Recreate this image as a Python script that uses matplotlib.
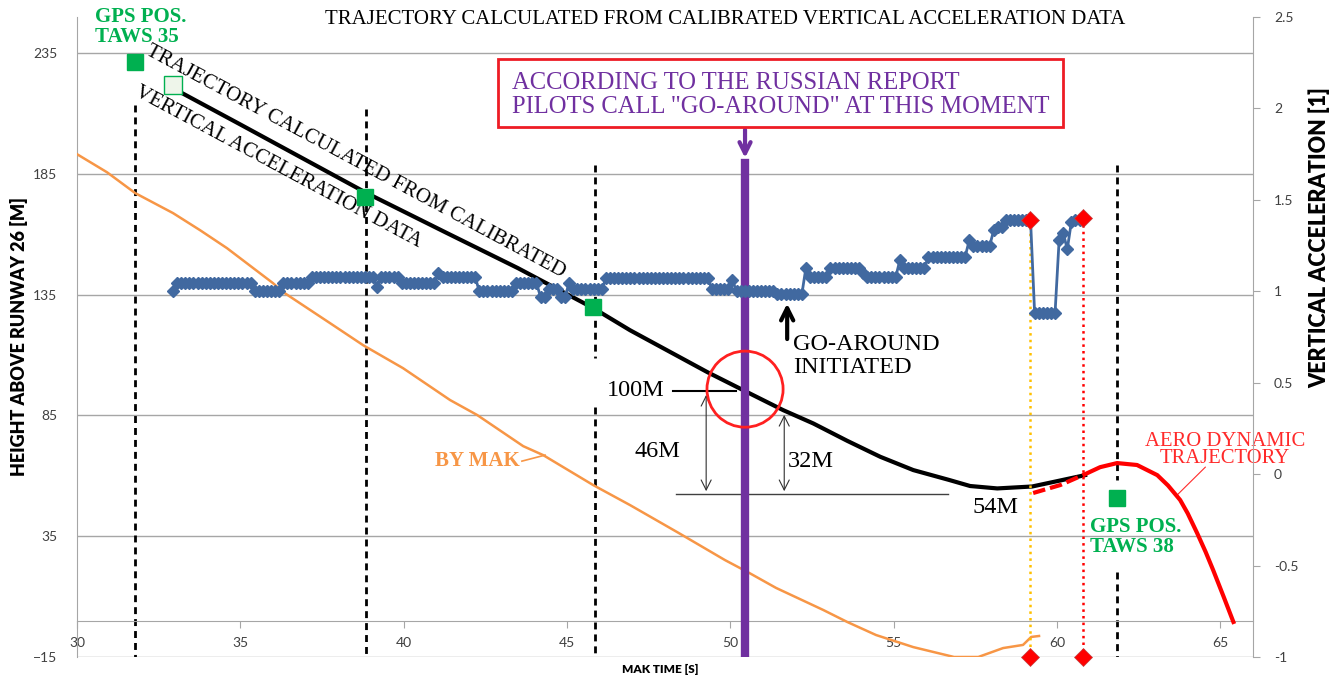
import numpy as np
import matplotlib.pyplot as plt
from matplotlib.patches import Ellipse, Rectangle
from matplotlib.ticker import FormatStrFormatter

plt.rcParams['font.family'] = ['Lato', 'DejaVu Sans']
SERIF = 'Liberation Serif'

# --- data ---
# height by MAK (orange)
mak_time = [30.0, 30.92, 31.78, 32.94, 33.77, 34.59, 36.0, 36.31, 37.75, 38.76, 39.98,
            41.42, 42.25, 43.66, 44.27, 45.80, 46.93, 48.4, 49.84, 50.58, 51.40, 52.84,
            53.58, 54.46, 55.60, 56.85, 57.59, 58.35, 58.96, 59.21, 59.45]
mak_height = [193.2, 185.7, 177.1, 168.8, 161.7, 154.3, 139.8, 136.1, 123.2, 114.1, 104.6,
              91.4, 85.2, 72.3, 68.6, 56.2, 47.9, 36.5, 25.1, 19.8, 13.6, 4.5,
              -0.5, -5.9, -10.9, -15.0, -15.0, -11.3, -10.0, -6.7, -6.3]

# trajectory from calibrated vertical acceleration (black)
traj_time = [32.94, 35.0, 38.88, 41.33, 43.5, 45.8, 46.93, 49.29, 50.51, 51.62, 52.54,
             53.58, 54.59, 55.60, 56.70, 57.34, 58.17, 59.24, 60.0, 60.86]
traj_height = [220.5, 205.5, 177.0, 160.5, 146.0, 129.5, 120.3, 103.0, 94.7, 87.2, 81.7,
               74.5, 67.9, 62.4, 58.3, 55.8, 54.8, 55.6, 57.8, 60.3]

# aerodynamic trajectory (red)
aero_dash_time = [59.27, 60.10, 60.86]
aero_dash_height = [52.9, 56.2, 60.7]
aero_time = [60.86, 61.32, 61.84, 62.45, 63.07, 63.4, 63.77, 64.0, 64.29, 64.55, 64.78,
             65.1, 65.40]
aero_height = [60.7, 63.6, 65.3, 64.5, 60.3, 56.0, 50.0, 44.5, 36.3, 28.5, 21.0,
               10.0, -0.5]

# vertical acceleration samples (blue), run-length: level, number of samples
acc_start = 32.94
acc_dt = 0.125
acc_levels = [1.00, 1.045, 1.00, 1.045, 1.078, 1.023, 1.078, 1.045, 1.10, 1.078, 1.00,
              1.045, 0.97, 1.01, 0.97, 1.045, 1.01, 1.07, 1.01, 1.06, 1.00, 0.985,
              1.13, 1.08, 1.13, 1.10, 1.08, 1.17, 1.127, 1.19, 1.28, 1.25, 1.335, 1.35,
              1.39, 0.88, 1.28, 1.32, 1.23, 1.38, 1.39]
acc_counts = [1, 19, 7, 7, 16, 1, 5, 9, 1, 9, 9,
              6, 2, 3, 2, 1, 8, 26, 5, 1, 10, 7,
              1, 5, 8, 1, 8, 1, 6, 10, 1, 5, 1, 2,
              7, 6, 1, 1, 1, 1, 2]

# GPS positions (green squares)
gps_time = [31.78, 38.82, 45.8, 61.84]
gps_height = [231.3, 175.4, 130.0, 50.8]
start_time = 32.94
start_height = 221.7

# dashed marker lines: time, list of (top, bottom) pieces
mark_time = [31.78, 38.85, 45.86, 61.84]
mark_pieces = [[(213.5, -15)], [(212.0, -15)], [(188.6, 109.0), (88.5, -15)],
               [(188.6, 58.3), (20.2, -15)]]

# end of recording (red diamonds)
end_time = [59.18, 60.80]
end_acc = [1.39, 1.40]
end_color = ['#ffc000', '#ff0000']

go_around_time = 50.45

# --- figure ---
fig = plt.figure(figsize=(13.41, 6.82), dpi=100)
ax = fig.add_axes([77 / 1341, 25 / 682, 1176 / 1341, 640 / 682])
ax2 = ax.twinx()

ax.set_xlim(30, 66)
ax.set_ylim(-15, 250)
ax2.set_ylim(-1, 2.5)

grey = '#a6a6a6'
ax.spines['top'].set_visible(False)
ax.spines['right'].set_visible(False)
ax.spines['left'].set_color(grey)
ax.spines['bottom'].set_color(grey)
ax.spines['bottom'].set_position(('data', 0))
for s in ['top', 'left', 'bottom']:
    ax2.spines[s].set_visible(False)
ax2.spines['right'].set_color(grey)

ax.set_yticks([-15, 35, 85, 135, 185, 235])
ax.grid(axis='y', color=grey, lw=1)
ax.set_axisbelow(True)
ax.set_xticks(range(30, 66, 5))
ax.tick_params(axis='y', length=0, pad=14, labelsize=10, labelcolor='#404040')
ax.tick_params(axis='x', length=5, color=grey, pad=7, labelsize=10, labelcolor='#404040')
ax2.set_yticks(np.arange(-1, 2.51, 0.5))
ax2.yaxis.set_major_formatter(FormatStrFormatter('%g'))
ax2.tick_params(axis='y', length=5, color=grey, pad=10, labelsize=10, labelcolor='#404040')

ax.set_ylabel('HEIGHT ABOVE RUNWAY 26 [M]', fontsize=13, fontweight='heavy')
ax.yaxis.set_label_coords(-0.0417, 0.5)
ax2.set_ylabel('VERTICAL ACCELERATION [1]', fontsize=15.5, fontweight='heavy')
ax2.yaxis.set_label_coords(1.0476, 0.655)
fig.text(660 / 1341, 1 - 669 / 682, 'MAK TIME [S]', fontsize=8.5, fontweight='heavy',
         ha='center', va='center')
fig.text(725 / 1341, 1 - 20 / 682,
         'TRAJECTORY CALCULATED FROM CALIBRATED VERTICAL ACCELERATION DATA',
         family=SERIF, fontsize=15, ha='center', va='center')

# dashed marker lines
for t, pieces in zip(mark_time, mark_pieces):
    for top, bot in pieces:
        ax.plot([t, t], [top, bot], color='black', lw=2, ls=(0, (2.5, 1.8)), zorder=2)

# series
ax.plot(mak_time, mak_height, color='#f79646', lw=1.8, zorder=3)
ax.plot(traj_time, traj_height, color='black', lw=3, zorder=4)
ax.plot(aero_dash_time, aero_dash_height, color='#ff0000', lw=3, ls=(0, (3, 1.2)), zorder=5)
ax.plot(aero_time, aero_height, color='#ff0000', lw=3, zorder=5)

ax.plot(gps_time, gps_height, ls='none', marker='s', ms=12, color='#00b050', zorder=6)
ax.plot([start_time], [start_height], ls='none', marker='s', ms=13, mfc='#eef5ea',
        mec='#00b050', mew=1, zorder=5)

# go-around moment
ax.plot([go_around_time, go_around_time], [189.5, -15], color='#7030a0', lw=6, zorder=6)
ax.annotate('', xy=(go_around_time, 190.5), xytext=(go_around_time, 204.5),
            arrowprops=dict(arrowstyle='->', color='#7030a0', lw=3, mutation_scale=20))
fig.patches.append(Rectangle((498 / 1341, 1 - 127 / 682), 565 / 1341, 68 / 682,
                             transform=fig.transFigure, fill=False, ec='#ee1c25', lw=2))
fig.text(512 / 1341, 1 - 95 / 682,
         'ACCORDING TO THE RUSSIAN REPORT\nPILOTS CALL "GO-AROUND" AT THIS MOMENT',
         family=SERIF, fontsize=17.7, color='#7030a0', ha='left', va='center',
         linespacing=1.12)

ax.add_patch(Ellipse((go_around_time, 95.9), 2.33, 31.5, fill=False, ec='#ff2020',
                     lw=2, zorder=7))

# go-around initiated
ax.annotate('', xy=(51.74, 132.5), xytext=(51.74, 115.5),
            arrowprops=dict(arrowstyle='->', color='black', lw=3, mutation_scale=22))
ax.text(51.92, 109.6, 'GO-AROUND\nINITIATED', family=SERIF, fontsize=17.5,
        ha='left', va='center', linespacing=1.1)

# height annotations
ax.text(48.0, 95.5, '100M', family=SERIF, fontsize=17.5, ha='right', va='center')
ax.plot([48.25, 50.18], [95.1, 95.1], color='black', lw=1.5, zorder=5)
ax.plot([48.34, 56.67], [52.5, 52.5], color='#404040', lw=1, zorder=5)
ax.annotate('', xy=(49.26, 94.7), xytext=(49.26, 52.5),
            arrowprops=dict(arrowstyle='<->', color='#303030', lw=0.8, mutation_scale=18))
ax.annotate('', xy=(51.65, 86.4), xytext=(51.65, 52.5),
            arrowprops=dict(arrowstyle='<->', color='#303030', lw=0.8, mutation_scale=18))
ax.text(47.76, 69.9, '46M', family=SERIF, fontsize=17.5, ha='center', va='center')
ax.text(52.47, 66.1, '32M', family=SERIF, fontsize=17.5, ha='center', va='center')
ax.text(58.11, 47.1, '54M', family=SERIF, fontsize=17.5, ha='center', va='center')

# labels on curves
ax.text(43.56, 66.1, 'BY MAK', family=SERIF, fontsize=15, fontweight='bold',
        color='#f79646', ha='right', va='center')
ax.plot([43.62, 44.33], [66.1, 68.6], color='#f79646', lw=1.2)
ax.text(30.55, 245.8, 'GPS POS.\nTAWS 35', family=SERIF, fontsize=15, fontweight='bold',
        color='#00b050', ha='left', va='center', linespacing=1.0, clip_on=False)
ax.text(61.02, 34.7, 'GPS POS.\nTAWS 38', family=SERIF, fontsize=15, fontweight='bold',
        color='#00b050', ha='left', va='center', linespacing=1.0)
ax.text(65.15, 70.7, 'AERO DYNAMIC\nTRAJECTORY', family=SERIF, fontsize=14.9,
        color='#ff2a2a', ha='center', va='center', linespacing=0.9, zorder=8)
ax.plot([63.68, 64.54], [52.1, 63.6], color='#ff2a2a', lw=0.8)
ax.text(38.54, 189.9, 'TRAJECTORY CALCULATED FROM CALIBRATED', family=SERIF, fontsize=15,
        rotation=-28.2, rotation_mode='anchor', ha='center', va='center')
ax.text(36.15, 187.8, 'VERTICAL ACCELERATION DATA', family=SERIF, fontsize=15,
        rotation=-28.2, rotation_mode='anchor', ha='center', va='center')

# vertical acceleration
acc_values = np.repeat(acc_levels, acc_counts)
acc_time = acc_start + acc_dt * np.arange(len(acc_values))
ax2.plot(acc_time, acc_values, color='#4169a0', lw=2, marker='D', ms=6.5, zorder=3)
for t, a, c in zip(end_time, end_acc, end_color):
    ax2.plot([t, t], [a, -1], color=c, lw=1.8, ls=':', zorder=2)
    ax2.plot([t, t], [a, -1], ls='none', marker='D', ms=9, color='#ff0000',
             mec='#c04040', mew=0.5, clip_on=False, zorder=4)

fig.savefig('out.png', dpi=100)
